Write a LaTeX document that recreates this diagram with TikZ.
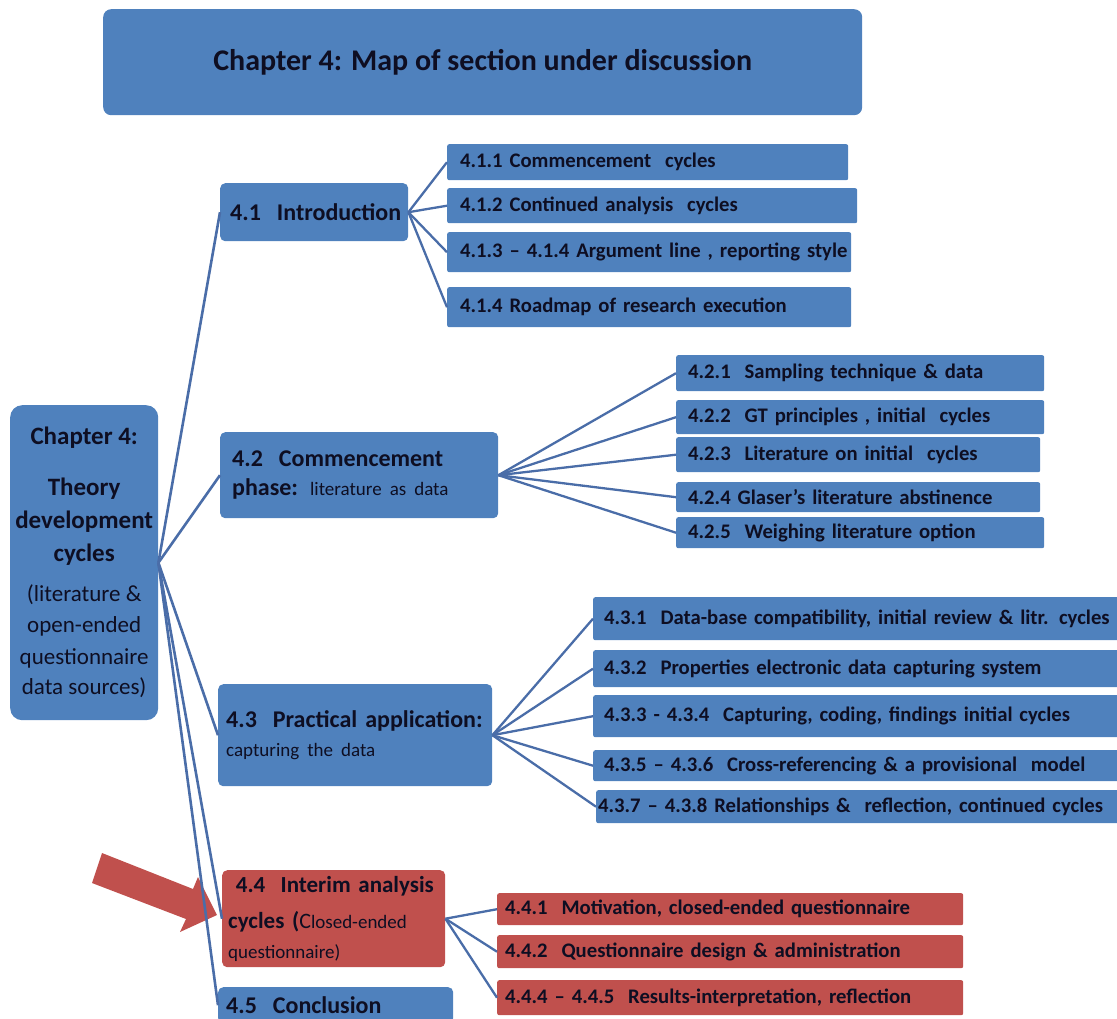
\documentclass[tikz,border=0pt]{standalone}
\usepackage{fontspec}
\setmainfont{Carlito}
\definecolor{boxblue}{HTML}{4F81BD}
\definecolor{boxred}{HTML}{C0504D}
\definecolor{linkblue}{HTML}{4A6DA8}
\definecolor{ink}{HTML}{0E0E22}
\newcommand{\bigbf}{\bfseries\fontsize{24}{29}\selectfont}
\newcommand{\smallrm}{\mdseries\fontsize{19}{29}\selectfont}
\tikzset{
  basebox/.style={anchor=north west, inner ysep=0pt, align=left, text=ink},
  lvlthree/.style={basebox, fill=boxblue, rounded corners=2pt, inner xsep=13pt,
    font=\bfseries\fontsize{20.7}{24}\selectfont},
  lvlthreered/.style={lvlthree, fill=boxred},
  lvltwo/.style={basebox, fill=boxblue, rounded corners=5pt, inner xsep=12pt,
    font=\bigbf},
  link/.style={draw=linkblue, line width=2.6pt},
  sublink/.style={draw=linkblue, line width=2.3pt}
}
\begin{document}
\begin{tikzpicture}[x=1pt,y=-1pt]
\useasboundingbox (0,0) rectangle (1117,1018);

% heading banner
\node[fill=boxblue, rounded corners=8pt, anchor=north west, minimum width=759pt,
  minimum height=106pt, inner sep=0pt, text=ink,
  font=\bfseries\fontsize{30}{36}\selectfont] (title) at (103,9)
  {Chapter 4: Map of section under discussion};

% root of the map
\node[fill=boxblue, rounded corners=12pt, anchor=north west, minimum width=148pt,
  minimum height=315pt, inner sep=0pt, align=center, text=ink,
  font=\bfseries\fontsize{25}{33}\selectfont] (root) at (10,405)
  {Chapter 4:\\[18pt]Theory\\development\\cycles\\[7pt]
   {\mdseries\fontsize{23}{33}\selectfont (literature \&}\\[-2pt]
   {\mdseries\fontsize{23}{33}\selectfont open-ended}\\[-1pt]
   {\mdseries\fontsize{23}{33}\selectfont questionnaire}\\[-3pt]
   {\mdseries\fontsize{23}{33}\selectfont data sources)}};

% second level
\node[lvltwo, text width=168pt, minimum height=58pt, inner xsep=10pt] (s41) at (220,183)
  {\mbox{4.1\ \ Introduction}};
\node[lvltwo, text width=254pt, minimum height=86pt] (s42) at (220,432)
  {\mbox{4.2\ \ Commencement}\\\mbox{phase: {\smallrm literature as data}}};
\node[lvltwo, text width=258pt, minimum height=102pt, inner xsep=8pt] (s43) at (218,684)
  {\mbox{4.3\ \ Practical application:}\\\mbox{\smallrm capturing the data}};
\node[lvltwo, fill=boxred, text width=211pt, minimum height=97pt, inner xsep=6pt,
  font=\bfseries\fontsize{23}{33}\selectfont] (s44) at (222,870)
  {\mbox{\ 4.4\ \ Interim analysis}\\[3pt]
   \mbox{cycles ({\mdseries\fontsize{22}{33}\selectfont C}{\mdseries\fontsize{19}{33}\selectfont losed-ended}}\\[-3pt]
   \mbox{\mdseries\fontsize{19}{33}\selectfont questionnaire)}};
\node[lvltwo, text width=219pt, minimum height=36pt, inner xsep=8pt] (s45) at (218,987)
  {\mbox{4.5\ \ Conclusion}};

% third level, 4.1
\node[lvlthree, text width=375pt, minimum height=36pt] (s411) at (447,144)
  {4.1.1 Commencement\ \ cycles};
\node[lvlthree, text width=384pt, minimum height=35pt] (s412) at (447,188)
  {4.1.2 Continued analysis\ \ cycles};
\node[lvlthree, text width=378pt, minimum height=40pt] (s413) at (447,232)
  {\mbox{4.1.3 -- 4.1.4 Argument line , reporting style}};
\node[lvlthree, text width=378pt, minimum height=40pt] (s414) at (447,287)
  {4.1.4 Roadmap of research execution};

% third level, 4.2
\node[lvlthree, text width=344pt, minimum height=36pt, inner xsep=12pt] (s421) at (676,355)
  {4.2.1\ \ Sampling technique \& data};
\node[lvlthree, text width=344pt, minimum height=34pt, inner xsep=12pt] (s422) at (676,400)
  {4.2.2\ \ GT principles\ , initial\ \ cycles};
\node[lvlthree, text width=340pt, minimum height=35pt, inner xsep=12pt] (s423) at (676,437)
  {4.2.3\ \ Literature on initial\ \ cycles};
\node[lvlthree, text width=340pt, minimum height=30pt, inner xsep=12pt] (s424) at (676,482)
  {4.2.4 Glaser’s literature abstinence};
\node[lvlthree, text width=344pt, minimum height=31pt, inner xsep=12pt] (s425) at (676,517)
  {4.2.5\ \ Weighing literature option};

% third level, 4.3
\node[lvlthree, text width=518pt, minimum height=43pt, inner xsep=11pt] (s431) at (593,597)
  {\mbox{4.3.1\ \ Data-base compatibility,\ initial review \& litr. cycles}};
\node[lvlthree, text width=518pt, minimum height=37pt, inner xsep=11pt] (s432) at (593,650)
  {4.3.2\ \ Properties electronic data capturing system};
\node[lvlthree, text width=518pt, minimum height=42pt, inner xsep=11pt] (s433) at (593,695)
  {4.3.3 - 4.3.4\ \ Capturing, coding, findings initial cycles};
\node[lvlthree, text width=518pt, minimum height=31pt, inner xsep=11pt] (s435) at (593,750)
  {4.3.5 -- 4.3.6\ \ Cross-referencing \& a provisional\ \ model};
\node[lvlthree, text width=530pt, minimum height=33pt, inner xsep=2pt] (s437) at (596,790)
  {\mbox{4.3.7 -- 4.3.8 Relationships \&\ \ reflection, continued cycles}};

% third level, 4.4
\node[lvlthreered, text width=450pt, minimum height=32pt, inner xsep=8pt] (s441) at (497,893)
  {4.4.1\ \ Motivation, closed-ended questionnaire};
\node[lvlthreered, text width=450pt, minimum height=33pt, inner xsep=8pt] (s442) at (497,935)
  {4.4.2\ \ Questionnaire design \& administration};
\node[lvlthreered, text width=450pt, minimum height=35pt, inner xsep=8pt] (s444) at (497,980)
  {4.4.4 -- 4.4.5\ \ Results-interpretation, reflection};

% pointer to the section in focus
\fill[boxred] (102,853) -- (193,889) -- (198,877) -- (217,915) -- (180,932)
  -- (186,919) -- (92,883) -- cycle;

% branches from the root
\foreach \t in {s41,s42,s43,s44,s45}
  \draw[link] (root.east) -- (\t.west);
% branches from each section
\foreach \t in {s411,s412,s413,s414}
  \draw[sublink] (s41.east) -- (\t.west);
\foreach \t in {s421,s422,s423,s424,s425}
  \draw[sublink] (s42.east) -- (\t.west);
\foreach \t in {s431,s432,s433,s435,s437}
  \draw[sublink] (s43.east) -- (\t.west);
\foreach \t in {s441,s442,s444}
  \draw[sublink] (s44.east) -- (\t.west);
\end{tikzpicture}
\end{document}
